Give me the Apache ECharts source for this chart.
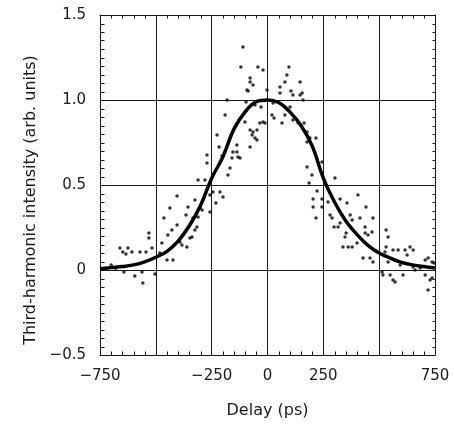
<!DOCTYPE html>
<html>
<head>
<meta charset="utf-8">
<script src="https://cdn.jsdelivr.net/npm/echarts@6/dist/echarts.min.js"></script>
<style>html,body{margin:0;padding:0;background:#fff;}#c{width:454px;height:424px;}</style>
</head>
<body>
<div id="c"></div>
<script>
// Fitted curve (delay in ps, intensity)
var curveDelay = [-750,-700,-650,-600,-550,-500,-450,-400,-350,-300,-250,-200,-150,-100,-50,0,50,100,150,200,250,300,350,400,450,500,550,600,650,700,750];
var curveValue = [0.008,0.014,0.02,0.03,0.048,0.075,0.11,0.17,0.26,0.38,0.54,0.665,0.83,0.93,0.99,1.0,0.985,0.93,0.85,0.73,0.54,0.40,0.29,0.21,0.145,0.10,0.07,0.045,0.03,0.02,0.012];

var pointDelay = [-661,-648,-643,-634,-625,-607,-594,-571,-562,-558,-544,-531,-531,-517,-504,-473,-482,-464,-450,-446,-437,-428,-423,-405,-405,-392,-383,-379,-365,-361,-356,-347,-338,-334,-325,-325,-316,-311,-311,-302,-293,-280,-271,-271,-258,-258,-244,-231,-226,-217,-213,-204,-199,-190,-181,-177,-168,-159,-155,-137,-137,-132,-123,-119,-110,-101,-96,-92,-87,-78,-78,-78,-78,-69,-65,-65,-56,-56,-47,-47,-43,-34,-29,-20,-20,-11,-2,20,25,29,56,56,65,78,78,87,96,101,105,114,114,137,146,146,155,159,164,177,177,190,217,177,199,186,204,204,217,222,244,244,244,271,280,289,298,302,316,325,325,338,347,352,356,361,370,379,379,401,405,414,428,437,437,441,459,450,468,472,472,513,517,526,531,540,531,540,549,562,562,571,571,585,594,607,616,625,638,652,652,661,683,706,706,719,719,728,737,737,746,-700,-680];
var pointValue = [0.129,0.106,-0.012,0.094,0.129,0.106,-0.035,0.106,-0.012,-0.076,0.106,0.218,0.188,0.129,-0.024,0.159,0.100,0.306,0.059,0.206,0.365,0.235,0.059,0.435,0.265,0.165,0.147,0.206,0.324,0.135,0.371,0.188,0.194,0.306,0.412,0.235,0.253,0.529,0.312,0.365,0.353,0.529,0.676,0.629,0.441,0.341,0.459,0.394,0.794,0.724,0.459,0.671,0.429,0.912,1.000,0.559,0.600,0.659,0.694,0.694,0.735,0.665,0.659,1.194,1.312,0.871,0.988,1.059,1.053,1.129,1.106,0.824,0.724,0.794,1.088,0.812,0.971,0.776,0.824,0.765,1.194,0.865,0.959,1.176,0.871,0.865,1.059,0.912,0.982,0.894,1.076,1.041,0.865,1.106,0.912,1.147,1.194,0.959,1.053,1.029,0.882,0.865,1.106,1.029,1.041,1.000,0.865,0.812,0.753,0.776,0.776,0.606,0.559,0.512,0.418,0.371,0.306,0.465,0.635,0.418,0.371,0.400,0.324,0.306,0.253,0.541,0.253,0.418,0.276,0.135,0.194,0.218,0.394,0.135,0.324,0.294,0.135,0.159,0.441,0.306,0.071,0.253,0.218,0.371,0.071,0.206,0.224,0.306,0.047,-0.012,-0.029,0.106,0.235,0.194,0.135,0.047,-0.029,0.118,-0.059,0.059,-0.071,0.118,0.029,-0.029,0.118,0.088,0.135,0.118,0.018,0.000,0.012,0.059,-0.029,0.071,-0.118,-0.059,0.047,-0.047,0.041,0.03,0.01];

// Axis tick labels and minor tick positions
var xTicks = [-750,-250,0,250,750];
var yTicks = [-0.5,0,0.5,1.0,1.5];
var xMinorTicks = [-700,-650,-600,-550,-450,-400,-350,-300,-200,-150,-100,-50,50,100,150,200,300,350,400,450,550,600,650,700];
var yMinorTicks = [-0.45,-0.4,-0.35,-0.3,-0.25,-0.2,-0.15,-0.1,-0.05,0.05,0.1,0.15,0.2,0.25,0.3,0.35,0.4,0.45,0.55,0.6,0.65,0.7,0.75,0.8,0.85,0.9,0.95,1.05,1.1,1.15,1.2,1.25,1.3,1.35,1.4,1.45];

function zip(a,b){var r=[];for(var i=0;i<a.length;i++)r.push([a[i],b[i]]);return r;}
function fmtMinus(s){return String(s).replace('-', '\u2212');}

var FONT = 'DejaVu Sans';
var INK = '#1a1a1a';
var chart = echarts.init(document.getElementById('c'), null, {renderer:'canvas'});
var G = {left:100,right:19,top:15,bottom:69,containLabel:false};

// tick marks drawn through the axis scales (api.coord)
function tickSeries(values, side, len){
  var data = values.map(function(v){
    if(side==='bottom') return [v,-0.5];
    if(side==='top') return [v,1.5];
    if(side==='left') return [-750,v];
    return [750,v];
  });
  return {type:'custom',xAxisIndex:0,yAxisIndex:0,silent:true,clip:false,z:5,data:data,
    renderItem:function(params,api){
      var p = api.coord([api.value(0),api.value(1)]);
      var x = Math.round(p[0])+0.5, y = Math.round(p[1])+0.5;
      var dx=0, dy=0;
      if(side==='bottom') dy=-len; else if(side==='top') dy=len;
      else if(side==='left') dx=len; else dx=-len;
      return {type:'line',shape:{x1:x,y1:y,x2:x+dx,y2:y+dy},
        style:{stroke:INK,lineWidth:1}};
    }};
}

chart.setOption({
  animation:false,
  backgroundColor:'#fff',
  grid:[G, Object.assign({},G)],
  xAxis:[{
    gridIndex:0,type:'value',min:-750,max:750,interval:250,
    axisLine:{show:true,onZero:false,lineStyle:{color:INK,width:1}},
    axisTick:{show:false},
    splitLine:{show:true,lineStyle:{color:INK,width:1}},
    name:'Delay (ps)',nameLocation:'middle',nameGap:48,
    nameTextStyle:{fontFamily:FONT,fontSize:16,color:INK},
    axisLabel:{margin:14,fontFamily:FONT,fontSize:15,color:INK,
      formatter:function(v){return xTicks.indexOf(v)>=0?fmtMinus(v):'';}}
  },
  {gridIndex:1,type:'value',position:'top',min:-750,max:750,interval:250,
    axisLine:{show:true,onZero:false,lineStyle:{color:INK,width:1}},
    axisTick:{show:false},axisLabel:{show:false},splitLine:{show:false}}
  ],
  yAxis:[{
    gridIndex:0,type:'value',min:-0.5,max:1.5,interval:0.5,
    axisLine:{show:true,onZero:false,lineStyle:{color:INK,width:1}},
    axisTick:{show:false},
    splitLine:{show:true,lineStyle:{color:INK,width:1}},
    name:'Third-harmonic intensity (arb. units)',nameLocation:'middle',nameGap:50,
    nameTextStyle:{fontFamily:FONT,fontSize:16,color:INK,padding:[0,30,0,0]},
    axisLabel:{margin:14,fontFamily:FONT,fontSize:15,color:INK,
      formatter:function(v){var r=Math.round(v*10)/10; if(yTicks.indexOf(r)<0) return ''; return r===0?'0':fmtMinus(r.toFixed(1));}}
  },
  {gridIndex:1,type:'value',position:'right',min:-0.5,max:1.5,interval:0.5,
    axisLine:{show:true,onZero:false,lineStyle:{color:INK,width:1}},
    axisTick:{show:false},axisLabel:{show:false},splitLine:{show:false}}
  ],
  series:[
    {type:'scatter',xAxisIndex:0,yAxisIndex:0,data:zip(pointDelay,pointValue),symbol:'circle',symbolSize:3.5,
      itemStyle:{color:'#000'},silent:true,z:3},
    {type:'line',xAxisIndex:0,yAxisIndex:0,data:zip(curveDelay,curveValue),smooth:0.4,showSymbol:false,
      lineStyle:{color:'#000',width:3.5},silent:true,z:4},
    tickSeries(xMinorTicks,'bottom',4),
    tickSeries(xMinorTicks,'top',3),
    tickSeries(yMinorTicks,'left',4),
    tickSeries(yMinorTicks,'right',3)
  ]
});
</script>
</body>
</html>
